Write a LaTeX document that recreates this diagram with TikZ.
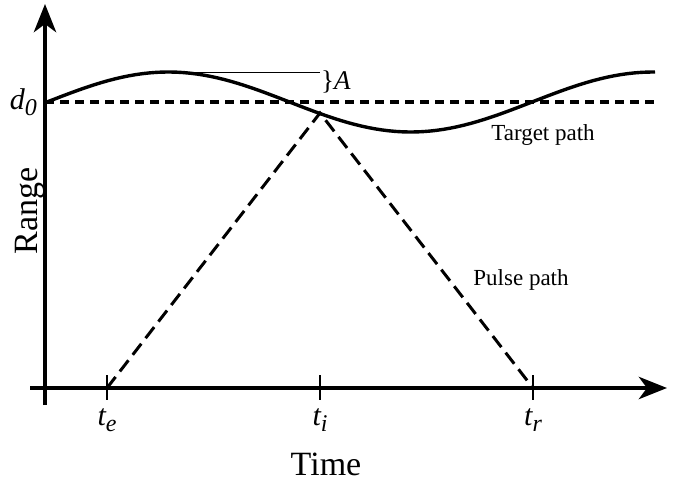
\documentclass[tikz,border=0pt]{standalone}
\usepackage{fontspec}
\setmainfont{Liberation Serif}
\usetikzlibrary{arrows.meta,positioning}
\newcommand{\lowsub}[1]{\raisebox{-0.45ex}{\fontsize{24}{24}\selectfont #1}}

\begin{document}
\begin{tikzpicture}[
    x=1pt, y=-1pt,
    axis/.style={line width=4.8pt, -{Stealth[length=28pt, width=22pt, inset=8pt]}},
    target/.style={line width=3.4pt},
    pulse/.style={line width=3pt, dash pattern=on 14pt off 7pt},
    level/.style={line width=3.2pt, dash pattern=on 9pt off 6pt},
    tickmark/.style={line width=1.5pt},
    lbl/.style={font=\fontsize{23}{26}\selectfont, inner sep=0pt},
    mlbl/.style={font=\fontsize{30}{33}\selectfont, inner sep=0pt},
    big/.style={font=\fontsize{34}{38}\selectfont, inner sep=0pt}
]
\useasboundingbox (0,0) rectangle (675,487);
% axes
\coordinate (xl) at (30,388);
\coordinate (xr) at (667,388);
\coordinate (yb) at (45,405);
\coordinate (yt) at (45,4);
\draw[axis] (xl) -- (xr);
\draw[axis] (yb) -- (yt);
\node[big, rotate=90, anchor=base] (range) at (37,211) {Range};
\node[big, anchor=base] (time) at (326,475) {Time};
% nominal range d0
\coordinate (d0) at (45,102);
\coordinate (d0end) at (656,102);
\draw[level] (d0) -- (d0end);
\node[mlbl, left=8pt of d0] (d0lab) {\textit{d\lowsub{0}}};
% target path
\draw[target] plot[domain=47:655, samples=90] (\x, {102-30*sin((\x-47)/485*360)});
\node[lbl, anchor=base] (tgt) at (543,140) {Target path};
% amplitude
\coordinate (peak) at (168,72);
\coordinate (amp) at (320,72);
\draw[line width=0.9pt] (peak) -- (amp);
\node[font=\fontsize{27}{30}\selectfont, inner sep=0pt, anchor=north west] (alab) at ([xshift=1pt,yshift=1pt]amp) {\}\textit{A}};
% pulse path
\coordinate (te) at (107,388);
\coordinate (ti) at (320,388);
\coordinate (tr) at (533,388);
\coordinate (apex) at (320,113);
\draw[pulse] (te) -- (apex) -- (tr);
\node[lbl, anchor=base] (pls) at (521,285) {Pulse path};
\foreach \t/\s in {te/e, ti/i, tr/r} {
  \draw[tickmark] ([yshift=13pt]\t) -- ([yshift=-12pt]\t);
  \node[mlbl, below=20pt of \t] (\t lab) {\textit{t\lowsub{\s}}};
}
\end{tikzpicture}
\end{document}
